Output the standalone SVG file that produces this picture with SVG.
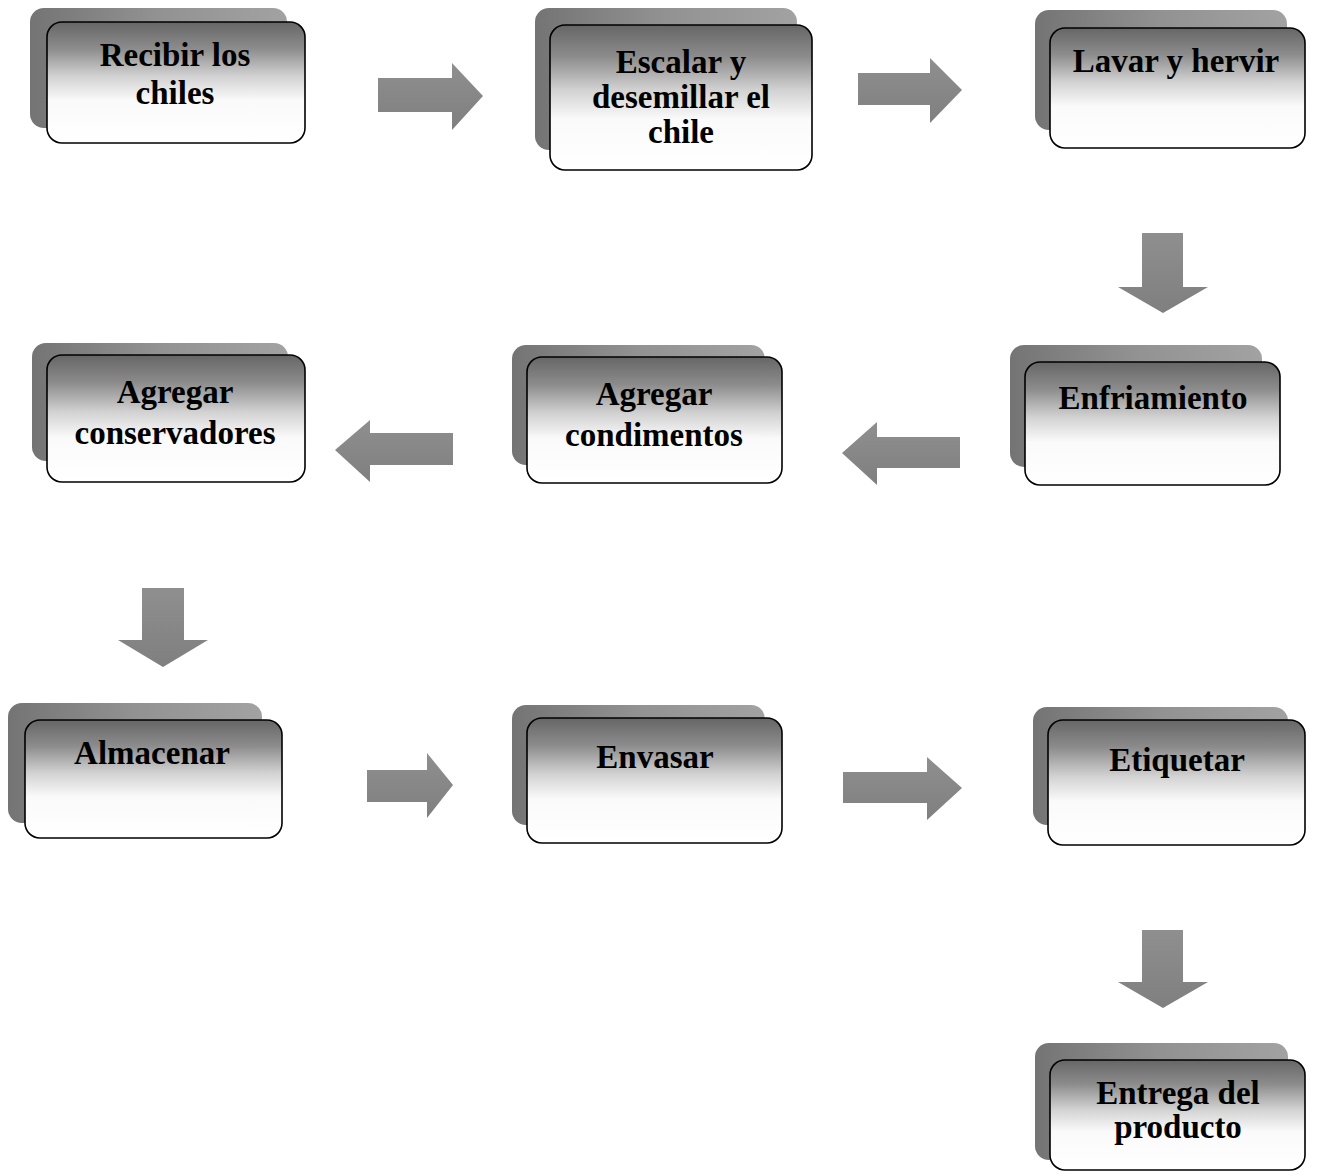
<svg xmlns="http://www.w3.org/2000/svg" width="1317" height="1176" viewBox="0 0 1317 1176">
<defs>
<linearGradient id="gFront" x1="0" y1="0" x2="0" y2="1">
<stop offset="0" stop-color="#666666"/>
<stop offset="0.22" stop-color="#8c8c8c"/>
<stop offset="0.45" stop-color="#d2d2d2"/>
<stop offset="0.65" stop-color="#fafafa"/>
<stop offset="1" stop-color="#ffffff"/>
</linearGradient>
<linearGradient id="gBack" x1="0" y1="0" x2="1" y2="0">
<stop offset="0" stop-color="#747474"/>
<stop offset="0.5" stop-color="#929292"/>
<stop offset="1" stop-color="#a2a2a2"/>
</linearGradient>
<linearGradient id="gArrow" x1="0" y1="0" x2="0" y2="1">
<stop offset="0" stop-color="#8f8f8f"/>
<stop offset="1" stop-color="#7f7f7f"/>
</linearGradient>
</defs>
<style>
.back{fill:url(#gBack);stroke:none}
.front{fill:url(#gFront);stroke:#000;stroke-width:1.6}
.lbl{font-family:"Liberation Serif","Times New Roman",serif;font-weight:bold;font-size:33px;fill:#000;text-anchor:middle}
.arr{fill:url(#gArrow);stroke:none}
</style>
<rect width="1317" height="1176" fill="#fff"/>

<g id="connectors">
<polygon class="arr" points="378,78 452,78 452,63 483,96 452,130 452,112 378,112"/>
<polygon class="arr" points="858,73 930,73 930,58 962,90 930,123 930,105 858,105"/>
<polygon class="arr" points="1142,233 1183,233 1183,287 1208,287 1163,313 1118,287 1142,287"/>
<polygon class="arr" points="960,437 877,437 877,422 842,453 877,485 877,468 960,468"/>
<polygon class="arr" points="453,433 370,433 370,420 335,450 370,482 370,465 453,465"/>
<polygon class="arr" points="142,588 184,588 184,640 208,640 163,667 118,640 142,640"/>
<polygon class="arr" points="367,770 427,770 427,753 453,785 427,818 427,802 367,802"/>
<polygon class="arr" points="843,772 927,772 927,757 962,788 927,820 927,803 843,803"/>
<polygon class="arr" points="1142,930 1183,930 1183,982 1208,982 1163,1008 1118,982 1142,982"/>
</g>

<g id="n1">
<rect class="back" x="30" y="8" width="257" height="120" rx="14"/>
<rect class="front" x="47" y="22" width="258" height="121" rx="15"/>
<text class="lbl" x="175" y="66">Recibir los</text>
<text class="lbl" x="175" y="104">chiles</text>
</g>
<g id="n2">
<rect class="back" x="535" y="8" width="262" height="142" rx="14"/>
<rect class="front" x="550" y="25" width="262" height="145" rx="15"/>
<text class="lbl" x="681" y="73">Escalar y</text>
<text class="lbl" x="681" y="108">desemillar el</text>
<text class="lbl" x="681" y="143">chile</text>
</g>
<g id="n3">
<rect class="back" x="1035" y="10" width="252" height="120" rx="14"/>
<rect class="front" x="1050" y="28" width="255" height="120" rx="15"/>
<text class="lbl" x="1176" y="72">Lavar y hervir</text>
</g>
<g id="n4">
<rect class="back" x="1010" y="345" width="252" height="122" rx="14"/>
<rect class="front" x="1025" y="362" width="255" height="123" rx="15"/>
<text class="lbl" x="1153" y="409">Enfriamiento</text>
</g>
<g id="n5">
<rect class="back" x="512" y="345" width="253" height="120" rx="14"/>
<rect class="front" x="527" y="357" width="255" height="126" rx="15"/>
<text class="lbl" x="654" y="405">Agregar</text>
<text class="lbl" x="654" y="446">condimentos</text>
</g>
<g id="n6">
<rect class="back" x="32" y="343" width="256" height="118" rx="14"/>
<rect class="front" x="47" y="355" width="258" height="127" rx="15"/>
<text class="lbl" x="175" y="403">Agregar</text>
<text class="lbl" x="175" y="444">conservadores</text>
</g>
<g id="n7">
<rect class="back" x="8" y="703" width="254" height="120" rx="14"/>
<rect class="front" x="25" y="720" width="257" height="118" rx="15"/>
<text class="lbl" x="152" y="764">Almacenar</text>
</g>
<g id="n8">
<rect class="back" x="512" y="705" width="253" height="120" rx="14"/>
<rect class="front" x="527" y="718" width="255" height="125" rx="15"/>
<text class="lbl" x="655" y="768">Envasar</text>
</g>
<g id="n9">
<rect class="back" x="1033" y="707" width="255" height="118" rx="14"/>
<rect class="front" x="1048" y="720" width="257" height="125" rx="15"/>
<text class="lbl" x="1177" y="771">Etiquetar</text>
</g>
<g id="n10">
<rect class="back" x="1035" y="1043" width="253" height="117" rx="14"/>
<rect class="front" x="1050" y="1060" width="255" height="110" rx="15"/>
<text class="lbl" x="1178" y="1104">Entrega del</text>
<text class="lbl" x="1178" y="1138">producto</text>
</g>
</svg>
